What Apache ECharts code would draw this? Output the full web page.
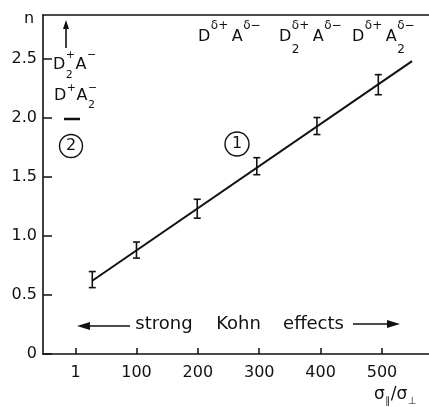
<!DOCTYPE html>
<html>
<head>
<meta charset="utf-8">
<script src="https://cdn.jsdelivr.net/npm/echarts@6/dist/echarts.min.js"></script>
<style>
    html, body { margin: 0; padding: 0; background: #fff; }
    #main { width: 429px; height: 407px; }
</style>
</head>
<body>
<div id="main"></div>
<script>
(function () {
    // values
    var ratio = [28, 100, 199, 296, 394, 494];
    var nVals = [0.63, 0.88, 1.23, 1.59, 1.93, 2.28];
    var nErr = [0.068, 0.068, 0.08, 0.072, 0.072, 0.085];
    var fitX = [28, 549];
    var fitN = [0.62, 2.48];
    var xTicks = [1, 100, 200, 300, 400, 500];
    var yTicks = [0, 0.5, 1.0, 1.5, 2.0, 2.5];

    var ink = '#111';
    var fam = '"DejaVu Sans", sans-serif';
    var xMin = -52.3, xMax = 576.6;

    var ctx = document.createElement('canvas').getContext('2d');
    function measure(s, size) {
        ctx.font = size + 'px ' + fam;
        return ctx.measureText(s).width;
    }
    function txt(x, y, s, size, align) {
        return {
            type: 'text', x: x, y: y, silent: true,
            style: {text: s, fontSize: size, fontFamily: fam, fill: ink,
                align: align || 'left', verticalAlign: 'middle'}
        };
    }
    // parts: [base, sup, sub, gapAfter]
    function formula(x0, yc, parts, size, small, supOff, subOff) {
        var out = [], x = x0;
        parts.forEach(function (p) {
            out.push(txt(x, yc, p[0], size));
            x += measure(p[0], size);
            var ws = 0;
            if (p[1]) {
                out.push(txt(x + 0.5, yc - supOff, p[1], small));
                ws = measure(p[1], small);
            }
            if (p[2]) {
                out.push(txt(x + 0.5, yc + subOff, p[2], small));
                ws = Math.max(ws, measure(p[2], small));
            }
            x += ws + (p[3] || 0);
        });
        return out;
    }
    function arrow(x1, y1, x2, y2, len, half) {
        var dx = x2 - x1, dy = y2 - y1, d = Math.sqrt(dx * dx + dy * dy);
        var ux = dx / d, uy = dy / d;
        var bx = x2 - ux * len, by = y2 - uy * len;
        return [
            {type: 'line', silent: true, shape: {x1: x1, y1: y1, x2: bx, y2: by},
                style: {stroke: ink, lineWidth: 1.6}},
            {type: 'polygon', silent: true,
                shape: {points: [[x2, y2], [bx - uy * half, by + ux * half], [bx + uy * half, by - ux * half]]},
                style: {fill: ink}}
        ];
    }

    var graphics = [];
    graphics.push(txt(29, 19, 'n', 16, 'center'));
    // left column labels
    graphics = graphics.concat(arrow(66, 48, 66, 20, 9, 3));
    graphics = graphics.concat(formula(53, 65, [['D', '+', '2', 1], ['A', '\u2212', '']], 16, 11, 10, 10));
    graphics = graphics.concat(formula(54, 96, [['D', '+', '', 1], ['A', '\u2212', '2']], 16, 11, 8, 9));
    graphics.push({type: 'line', silent: true, shape: {x1: 64, y1: 119, x2: 80, y2: 119},
        style: {stroke: ink, lineWidth: 2.5}});
    graphics.push({type: 'circle', silent: true, shape: {cx: 71, cy: 146, r: 11.5},
        style: {fill: 'none', stroke: ink, lineWidth: 1.4}});
    graphics.push(txt(71, 146, '2', 16, 'center'));
    graphics.push({type: 'circle', silent: true, shape: {cx: 237, cy: 144, r: 12},
        style: {fill: 'none', stroke: ink, lineWidth: 1.4}});
    graphics.push(txt(237, 144, '1', 16, 'center'));
    // top labels
    graphics = graphics.concat(formula(198, 37, [['D', '\u03b4+', '', 4], ['A', '\u03b4\u2212', '']], 16, 12, 11, 13));
    graphics = graphics.concat(formula(279, 37, [['D', '\u03b4+', '2', 4], ['A', '\u03b4\u2212', '']], 16, 12, 11, 13));
    graphics = graphics.concat(formula(352, 37, [['D', '\u03b4+', '', 4], ['A', '\u03b4\u2212', '2']], 16, 12, 11, 13));
    // strong Kohn effects
    graphics = graphics.concat(arrow(130, 326, 77, 326, 13, 4));
    graphics = graphics.concat(arrow(353, 324, 400, 324, 13, 4));
    graphics.push(txt(164, 324, 'strong', 18, 'center'));
    graphics.push(txt(238.5, 324, 'Kohn', 18, 'center'));
    graphics.push(txt(313.5, 324, 'effects', 18, 'center'));
    // axis name
    graphics = graphics.concat(formula(374, 395, [['\u03c3', '', '\u2225', 1], ['/', '', ''], ['\u03c3', '', '\u22a5']], 17, 10, 0, 6));

    var points = ratio.map(function (x, i) { return [x, nVals[i], nErr[i]]; });
    var fit = fitX.map(function (x, i) { return [x, fitN[i]]; });

    var myChart = echarts.init(document.getElementById('main'));
    var option = {
        animation: false,
        backgroundColor: '#fff',
        grid: {left: 43, right: 0, top: 15, bottom: 53},
        xAxis: [
            {
                type: 'value', min: xMin, max: xMax,
                axisLine: {show: true, onZero: false, lineStyle: {color: ink, width: 1.6}},
                axisTick: {show: true, inside: true, length: 6, customValues: xTicks,
                    lineStyle: {color: ink, width: 1.5}},
                axisLabel: {customValues: xTicks, margin: 11, color: ink, fontSize: 16, fontFamily: fam,
                    formatter: function (v) { return String(v); }},
                splitLine: {show: false}
            },
            {
                type: 'value', position: 'top', min: xMin, max: xMax,
                axisLine: {show: true, onZero: false, lineStyle: {color: ink, width: 1.6}},
                axisTick: {show: false}, axisLabel: {show: false}, splitLine: {show: false}
            }
        ],
        yAxis: {
            type: 'value', min: 0, max: 2.87,
            axisLine: {show: true, onZero: false, lineStyle: {color: ink, width: 1.6}},
            axisTick: {show: true, inside: true, length: 9, customValues: yTicks,
                lineStyle: {color: ink, width: 1.5}},
            axisLabel: {customValues: yTicks, margin: 6, color: ink, fontSize: 16, fontFamily: fam,
                formatter: function (v) { return v === 0 ? '0' : v.toFixed(1); }},
            splitLine: {show: false}
        },
        series: [
            {
                type: 'line', data: fit, showSymbol: false, silent: true,
                lineStyle: {color: ink, width: 2}
            },
            {
                type: 'custom', data: points, silent: true,
                encode: {x: 0, y: 1},
                renderItem: function (params, api) {
                    var x = api.value(0), y = api.value(1), e = api.value(2);
                    var top = api.coord([x, y + e]), bot = api.coord([x, y - e]);
                    var c = 3.5;
                    var st = {stroke: ink, lineWidth: 1.6};
                    return {
                        type: 'group', children: [
                            {type: 'line', shape: {x1: top[0], y1: top[1], x2: bot[0], y2: bot[1]}, style: st},
                            {type: 'line', shape: {x1: top[0] - c, y1: top[1], x2: top[0] + c, y2: top[1]}, style: st},
                            {type: 'line', shape: {x1: bot[0] - c, y1: bot[1], x2: bot[0] + c, y2: bot[1]}, style: st}
                        ]
                    };
                }
            }
        ],
        graphic: graphics
    };
    myChart.setOption(option);
})();
</script>
</body>
</html>
